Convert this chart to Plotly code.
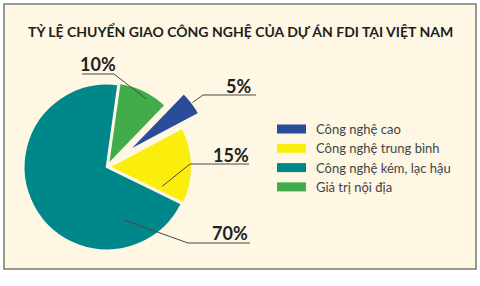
import math
import plotly.graph_objects as go

# ---- data ----
title = "TỶ LỆ CHUYỂN GIAO CÔNG NGHỆ CỦA DỰ ÁN FDI TẠI VIỆT NAM"
labels = ["Công nghệ cao", "Công nghệ trung bình", "Công nghệ kém, lạc hậu", "Giá trị nội địa"]
values = [5, 15, 70, 10]
pct_text = ["5%", "15%", "70%", "10%"]
colors = ["#2b4b9b", "#fbed0c", "#00878a", "#42ac4b"]

# ---- styling / layout ----
W, H = 480, 286
BG = "#fdf7e4"
ROT = 44
pulls = [0.28, 0.02, 0, 0.02]
FONT = "Lato, Open Sans, sans-serif"


def px(x):
    return x / W


def py(y):
    return 1 - y / H


cx, cy, side = 107, 167, 214
domain_x = [px(cx - side / 2), px(cx + side / 2)]
domain_y = [py(cy + side / 2), py(cy - side / 2)]
r = side / (2 + 2 * max(pulls))

# label layout: text centre, underline y, underline x-range, elbow side, anchor (angle offset, radius frac)
label_pos = [(238, 86), (231, 155), (230, 233), (98, 64)]
underline_y = [95, 164, 243, 74]
underline_x = [(203, 256), (190, 249), (188, 250), (82, 114)]
elbow_right = [False, False, False, True]
anchor = [(0, 1.0), (21, 0.68), (-79, 0.66), (4, 0.92)]

fig = go.Figure(
    go.Pie(
        labels=labels,
        values=values,
        marker=dict(colors=colors, line=dict(color=BG, width=2.5)),
        sort=False,
        direction="clockwise",
        rotation=ROT,
        pull=pulls,
        textinfo="none",
        hoverinfo="label+percent",
        domain=dict(x=domain_x, y=domain_y),
        showlegend=False,
    )
)

shapes = [
    dict(type="rect", xref="paper", yref="paper",
         x0=px(4), x1=px(476), y0=py(269), y1=py(4),
         fillcolor=BG, line=dict(color="#7a7a72", width=1.5), layer="below")
]
annotations = [
    dict(text="<b>" + title + "</b>", x=px(240), y=py(32), xref="paper", yref="paper",
         showarrow=False, xanchor="center", yanchor="middle",
         font=dict(family=FONT, size=14, color="#1e1e1e"))
]

total = sum(values)
cum = 0
for i, v in enumerate(values):
    mid = ROT + 360 * (cum + v / 2) / total
    cum += v
    # pulled slice centre offset
    off = pulls[i] * r
    ox = cx + off * math.sin(math.radians(mid))
    oy = cy - off * math.cos(math.radians(mid))
    ang = math.radians(mid + anchor[i][0])
    ax = ox + anchor[i][1] * r * math.sin(ang)
    ay = oy - anchor[i][1] * r * math.cos(ang)
    ux0, ux1 = underline_x[i]
    uy = underline_y[i]
    ex = ux1 if elbow_right[i] else ux0
    shapes.append(dict(type="line", xref="paper", yref="paper",
                       x0=px(ux0), x1=px(ux1), y0=py(uy), y1=py(uy),
                       line=dict(color="#4a4a44", width=1)))
    shapes.append(dict(type="line", xref="paper", yref="paper",
                       x0=px(ex), x1=px(ax), y0=py(uy), y1=py(ay),
                       line=dict(color="#4a4a44", width=1)))
    tx, ty = label_pos[i]
    annotations.append(dict(text="<b>" + pct_text[i] + "</b>", x=px(tx), y=py(ty),
                            xref="paper", yref="paper", showarrow=False,
                            xanchor="center", yanchor="middle",
                            font=dict(family=FONT, size=18, color="#222222")))

# custom legend
leg_x0, leg_x1, leg_y0, leg_step, sw_h = 277, 306, 129, 19.3, 9
for i, lab in enumerate(labels):
    yc = leg_y0 + i * leg_step
    shapes.append(dict(type="rect", xref="paper", yref="paper",
                       x0=px(leg_x0), x1=px(leg_x1), y0=py(yc + sw_h / 2), y1=py(yc - sw_h / 2),
                       fillcolor=colors[i], line=dict(width=0)))
    annotations.append(dict(text=lab, x=px(314), y=py(yc), xref="paper", yref="paper",
                            showarrow=False, xanchor="left", yanchor="middle",
                            font=dict(family=FONT, size=13, color="#444444")))

fig.update_layout(
    width=W, height=H,
    margin=dict(l=0, r=0, t=0, b=0),
    paper_bgcolor="white",
    shapes=shapes,
    annotations=annotations,
)

fig.write_html("out.html")
